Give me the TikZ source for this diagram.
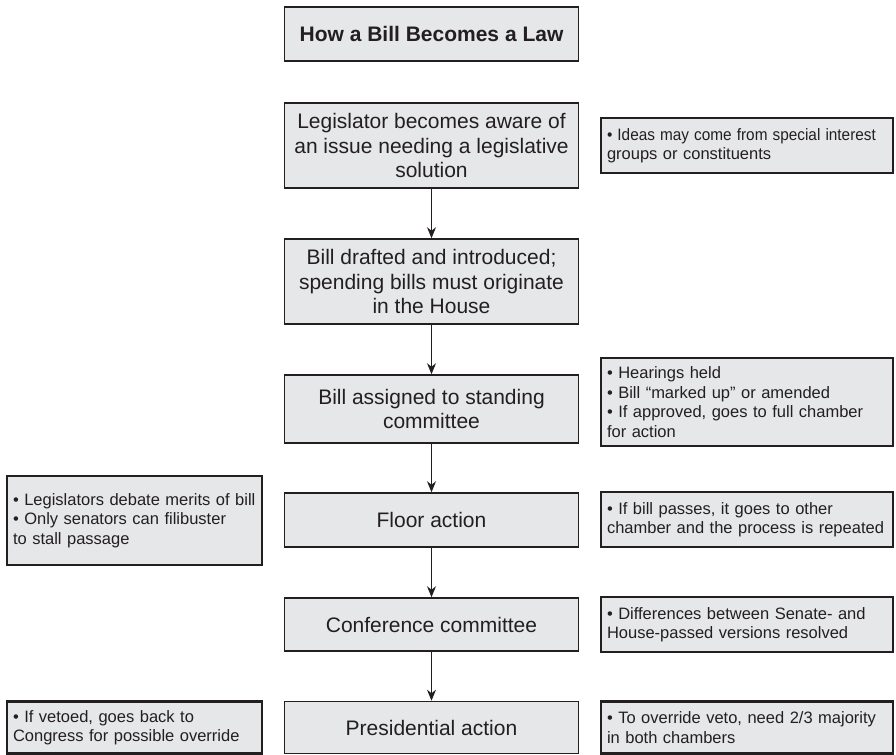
\documentclass[tikz,border=0pt]{standalone}
\usepackage{fontspec}
\usepackage{graphicx}
\setmainfont{Liberation Sans}
\usetikzlibrary{arrows.meta}

\definecolor{boxgray}{HTML}{E6E7E8}
\definecolor{inkgray}{HTML}{231F20}

\newcommand{\nohyph}{\hyphenpenalty=10000\relax\exhyphenpenalty=10000\relax}

\tikzset{
  mainbox/.style={draw=inkgray, line width=0.8pt, fill=boxgray, text=inkgray,
    minimum width=147pt, align=center, inner sep=2pt,
    font=\fontsize{10.5}{12.25}\selectfont},
  titlebox/.style={mainbox, font=\fontsize{10.5}{12.25}\selectfont\bfseries},
  notebox/.style={draw=inkgray, line width=1.4pt, fill=boxgray, text=inkgray,
    align=left, inner xsep=3pt, inner ysep=2pt, text width=140pt,
    font=\fontsize{8.25}{9.75}\selectfont\nohyph},
  leftnote/.style={notebox, text width=121.5pt},
  flow/.style={-{Stealth[length=5.5pt,width=4.5pt]}, draw=inkgray, line width=0.6pt}
}

\begin{document}
\begin{tikzpicture}[x=0.5pt, y=-0.5pt]
\useasboundingbox (0,0) rectangle (896,755);

% main column
\node[titlebox, minimum height=27pt] (title) at (431.5, 34) {How a Bill Becomes a Law};
\node[mainbox, minimum height=42.5pt] (aware) at (431.5, 145.5)
  {Legislator becomes aware of\\an issue needing a legislative\\solution};
\node[mainbox, minimum height=42.5pt] (drafted) at (431.5, 281.5)
  {Bill drafted and introduced;\\spending bills must originate\\in the House};
\node[mainbox, minimum height=34pt] (committee) at (431.5, 409)
  {Bill assigned to standing\\committee};
\node[mainbox, minimum height=27pt] (floor) at (431.5, 520) {Floor action};
\node[mainbox, minimum height=26.5pt] (conference) at (431.5, 624.5) {Conference committee};
\node[mainbox, minimum height=26pt] (president) at (431.5, 727.5) {Presidential action};

% notes on the right
\node[notebox, minimum height=27.5pt] (ideas) at (747, 145.5)
  {\scalebox{0.93}[1]{\textbullet\ Ideas may come from special interest}\\groups or constituents};
\node[notebox, minimum height=44pt] (hearings) at (747, 402)
  {\textbullet\ Hearings held\\\textbullet\ Bill “marked up” or amended\\\textbullet\ If approved, goes to full chamber\\for action};
\node[notebox, minimum height=27.5pt] (passes) at (747, 519.5)
  {\textbullet\ If bill passes, it goes to other\\chamber and the process is repeated};
\node[notebox, minimum height=27.5pt] (differences) at (747, 624.5)
  {\textbullet\ Differences between Senate- and\\House-passed versions resolved};
\node[notebox, minimum height=26pt] (override) at (747, 727.5)
  {\textbullet\ To override veto, need 2/3 majority\\in both chambers};

% notes on the left
\node[leftnote, minimum height=44.5pt] (filibuster) at (134.5, 520.5)
  {\textbullet\ Legislators debate merits of bill\\\textbullet\ Only senators can filibuster\\to stall passage};
\node[leftnote, minimum height=26pt] (vetoed) at (134.5, 727.5)
  {\textbullet\ If vetoed, goes back to\\Congress for possible override};

\draw[flow] (aware) -- (drafted);
\draw[flow] (drafted) -- (committee);
\draw[flow] (committee) -- (floor);
\draw[flow] (floor) -- (conference);
\draw[flow] (conference) -- (president);

\end{tikzpicture}
\end{document}
